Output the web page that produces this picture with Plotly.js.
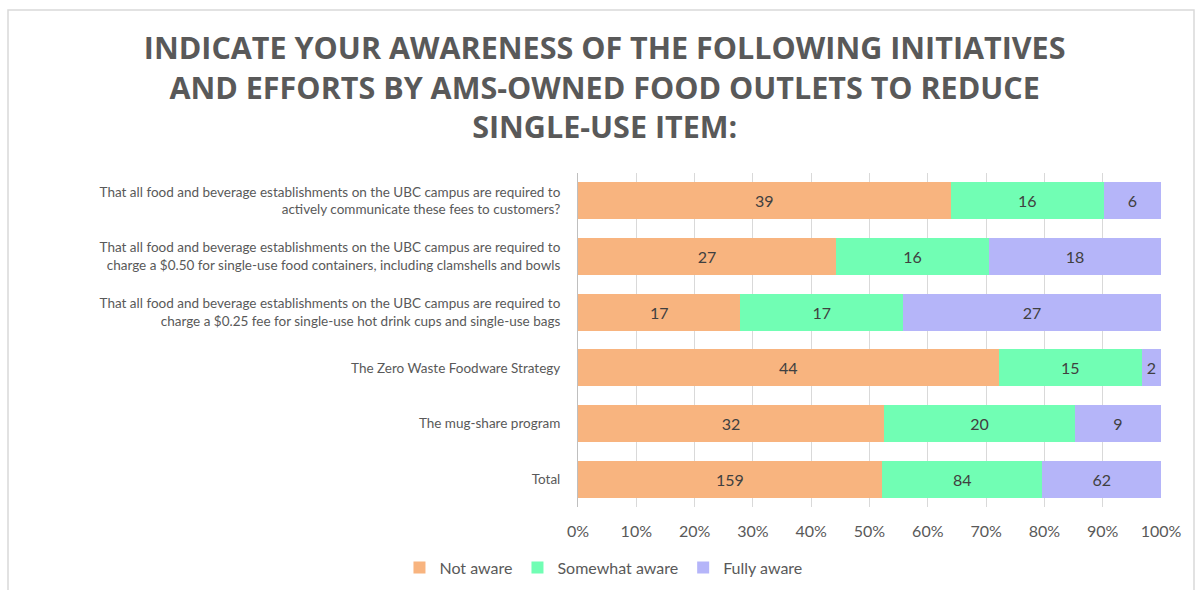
<!DOCTYPE html>
<html>
<head>
<meta charset="utf-8">
<script src="https://cdn.plot.ly/plotly-3.0.1.min.js"></script>
<style>
  html, body { margin: 0; padding: 0; background: #fff; }
  #chart { width: 1195px; height: 590px; }
</style>
</head>
<body>
<div id="chart"></div>
<script>
// categories, top to bottom as shown
const categories = [
    'That all food and beverage establishments on the UBC campus are required to<br>actively communicate these fees to customers?',
    'That all food and beverage establishments on the UBC campus are required to<br>charge a $0.50 for single-use food containers, including clamshells and bowls',
    'That all food and beverage establishments on the UBC campus are required to<br>charge a $0.25 fee for single-use hot drink cups and single-use bags',
    'The Zero Waste Foodware Strategy',
    'The mug-share program',
    'Total'
];

const notAware = [39, 27, 17, 44, 32, 159];
const somewhatAware = [16, 16, 17, 15, 20, 84];
const fullyAware = [6, 18, 27, 2, 9, 62];

const seriesNames = ['Not aware', 'Somewhat aware', 'Fully aware'];
const seriesColors = ['#F8B47F', '#71FEB4', '#B5B5F9'];

const xTickVals = [0, 10, 20, 30, 40, 50, 60, 70, 80, 90, 100];
const xTickText = xTickVals.map(v => v + '%');

const font = 'Lato, sans-serif';

const traces = [notAware, somewhatAware, fullyAware].map((vals, i) => ({
    type: 'bar',
    orientation: 'h',
    name: seriesNames[i],
    y: categories,
    x: vals,
    text: vals.map(String),
    textposition: 'inside',
    insidetextanchor: 'middle',
    textangle: 0,
    textfont: { family: font, size: 16, color: '#404040' },
    marker: { color: seriesColors[i], line: { width: 0 } },
    hoverinfo: 'x+name'
}));

const layout = {
    width: 1195,
    height: 590,
    barmode: 'stack',
    barnorm: 'percent',
    bargap: 0.33,
    title: {
        text: 'INDICATE YOUR AWARENESS OF THE FOLLOWING INITIATIVES<br>AND EFFORTS BY AMS-OWNED FOOD OUTLETS TO REDUCE<br>SINGLE-USE ITEM:',
        font: { family: '"Open Sans", sans-serif', size: 30.5, color: '#595959', weight: 'bold' },
        x: 0.506,
        xanchor: 'center',
        yref: 'container',
        y: 0.9,
        yanchor: 'top'
    },
    xaxis: {
        range: [0, 100],
        tickvals: xTickVals,
        ticktext: xTickText,
        showgrid: true,
        gridcolor: '#D9D9D9',
        gridwidth: 1,
        zeroline: false,
        showline: false,
        ticks: '',
        ticklabelstandoff: 13,
        tickfont: { family: font, size: 16, color: '#595959' },
        fixedrange: true
    },
    yaxis: {
        autorange: 'reversed',
        showline: true,
        linecolor: '#BFBFBF',
        linewidth: 1,
        ticks: '',
        ticklabelstandoff: 14,
        tickfont: { family: font, size: 13.5, color: '#595959' },
        fixedrange: true
    },
    legend: {
        orientation: 'h',
        xref: 'container',
        x: 0.505,
        xanchor: 'center',
        yref: 'container',
        y: 0.038,
        yanchor: 'middle',
        font: { family: font, size: 16, color: '#595959' },
        itemwidth: 30,
        traceorder: 'normal'
    },
    shapes: [{
        type: 'rect',
        xref: 'paper', yref: 'paper',
        x0: -0.9777, x1: 1.0566,
        y0: -0.26, y1: 1.488,
        line: { color: '#D9D9D9', width: 1.5 },
        fillcolor: 'rgba(0,0,0,0)',
        layer: 'below'
    }],
    margin: { t: 173, r: 34, b: 83, l: 578 },
    plot_bgcolor: '#ffffff',
    paper_bgcolor: '#ffffff',
    showlegend: true
};

Plotly.newPlot('chart', traces, layout, { displayModeBar: false, responsive: false });
</script>
</body>
</html>
